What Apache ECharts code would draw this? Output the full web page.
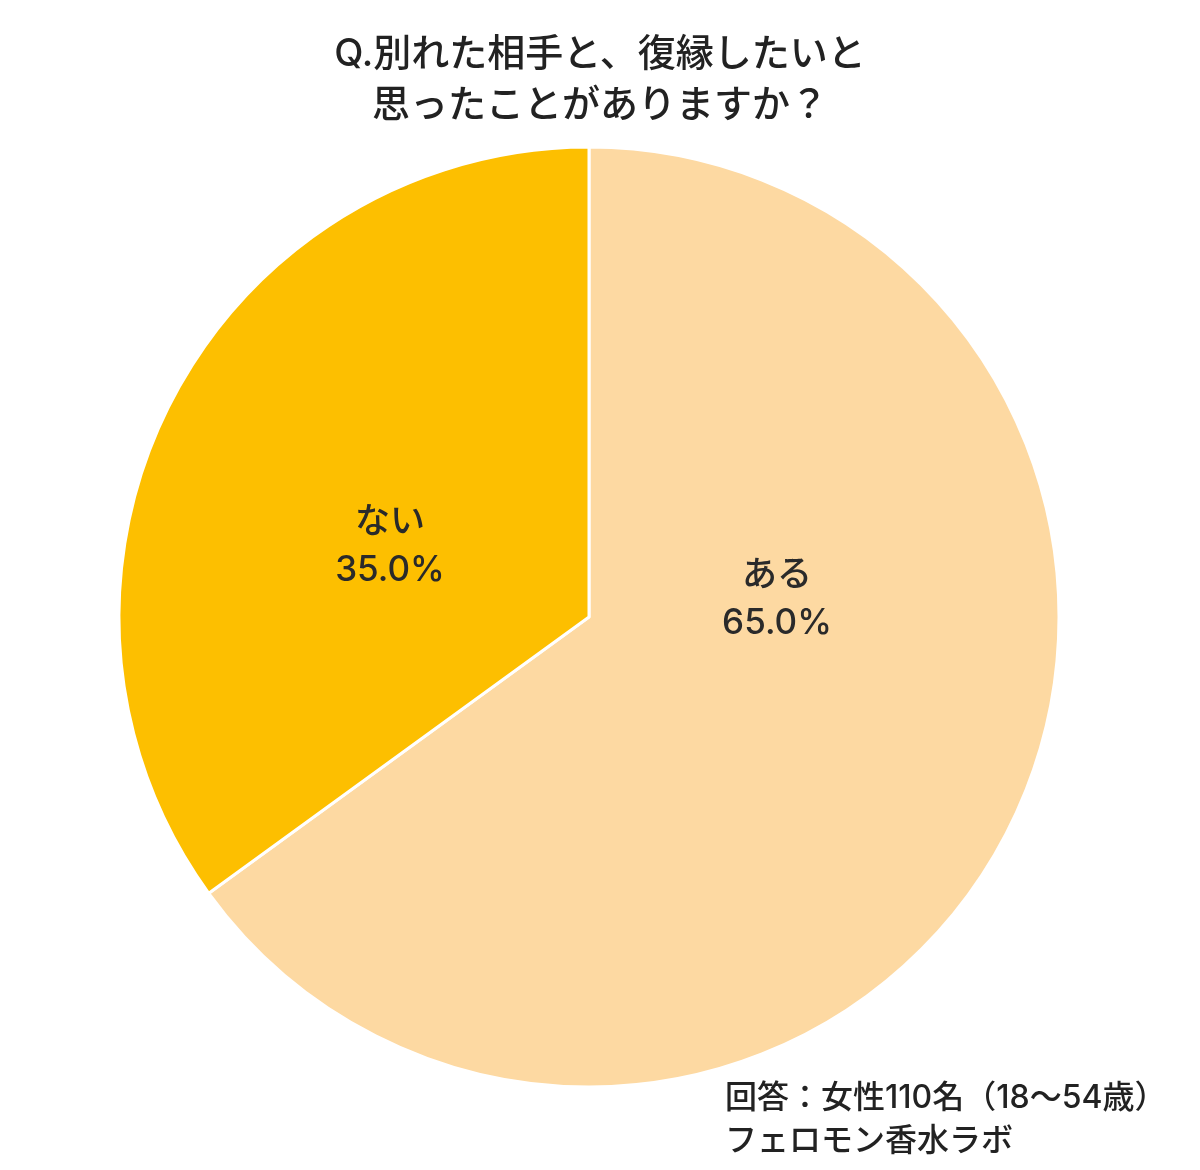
<!DOCTYPE html>
<html><head><meta charset="utf-8">
<script src="https://cdn.jsdelivr.net/npm/echarts@6/dist/echarts.min.js"></script>
<style>html,body{margin:0;padding:0;background:#fff}#c{width:1200px;height:1170px}</style>
</head><body><div id="c"></div>
<script>
const categories = ['ある', 'ない'];
const values = [65.0, 35.0];
const colors = ['#FDD9A2', '#FDBF00'];
const labelPos = [[777, 599], [390, 546]];
const FONT = 'Inter, "Noto Sans CJK JP", sans-serif';
const chart = echarts.init(document.getElementById('c'));
chart.setOption({
  backgroundColor: '#fff',
  animation: false,
  title: [{
    text: 'Q.別れた相手と、復縁したいと\n思ったことがありますか？',
    left: 'center', top: 24,
    textStyle: {fontFamily: FONT, fontSize: 38, fontWeight: 500, color: '#222', lineHeight: 51}
  }, {
    text: '回答：女性110名（18～54歳）\nフェロモン香水ラボ',
    left: 720, top: 1072,
    textStyle: {fontFamily: FONT, fontSize: 32, fontWeight: 500, color: '#222', lineHeight: 43}
  }],
  series: [{
    type: 'pie',
    center: [589, 617],
    radius: [0, 470],
    startAngle: 90,
    clockwise: true,
    data: categories.map((c, i) => ({name: c, value: values[i], itemStyle: {color: colors[i]}})),
    itemStyle: {borderColor: '#fff', borderWidth: 3},
    label: {
      show: true, position: 'inside',
      formatter: p => p.name + '\n' + p.value.toFixed(1) + '%',
      fontFamily: FONT, fontSize: 35, fontWeight: 500, color: '#2a2a2a', lineHeight: 48
    },
    labelLine: {show: false},
    labelLayout: p => ({x: labelPos[p.dataIndex][0], y: labelPos[p.dataIndex][1], align: 'center', verticalAlign: 'middle'})
  }]
});
</script></body></html>
